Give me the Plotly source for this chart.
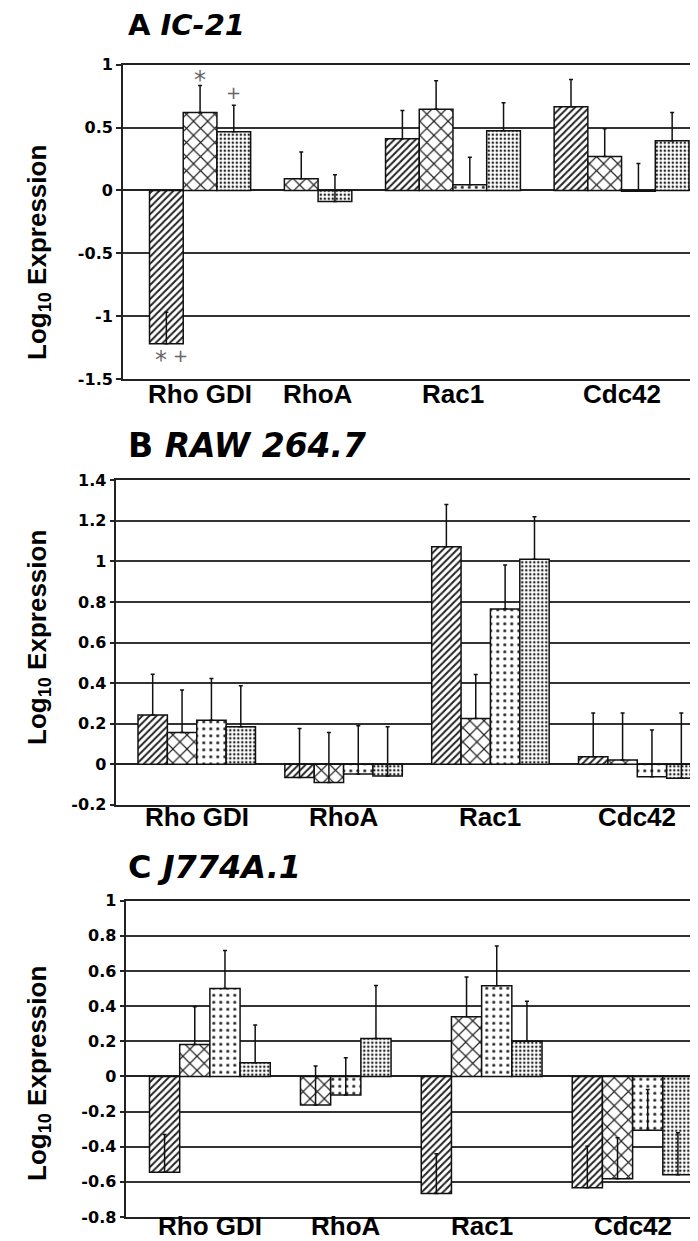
import plotly.graph_objects as go

# ---------------- data ----------------
categories = ["Rho GDI", "RhoA", "Rac1", "Cdc42"]
series_names = ["hatched", "crosshatch", "chevron", "dotted"]

# Panel A  IC-21
a_hatched = [-1.22, None, 0.41, 0.665]
a_cross = [0.62, 0.092, 0.645, 0.27]
a_chevron = [None, None, 0.045, -0.007]
a_dotted = [0.467, -0.088, 0.475, 0.395]
a_hatched_err = [0.25, None, 0.225, 0.217]
a_cross_err = [0.215, 0.213, 0.228, 0.22]
a_chevron_err = [None, None, 0.218, 0.222]
a_dotted_err = [0.21, 0.212, 0.223, 0.225]

# Panel B  RAW 264.7
b_hatched = [0.242, -0.066, 1.072, 0.036]
b_cross = [0.156, -0.09, 0.225, 0.021]
b_chevron = [0.217, -0.049, 0.765, -0.0625]
b_dotted = [0.184, -0.058, 1.01, -0.07]
b_hatched_err = [0.202, 0.242, 0.209, 0.216]
b_cross_err = [0.21, 0.246, 0.217, 0.231]
b_chevron_err = [0.206, 0.239, 0.217, 0.231]
b_dotted_err = [0.203, 0.242, 0.21, 0.322]

# Panel C  J774A.1
c_hatched = [-0.545, None, -0.666, -0.634]
c_cross = [0.182, -0.163, 0.34, -0.583]
c_chevron = [0.5, -0.106, 0.516, -0.307]
c_dotted = [0.078, 0.216, 0.2, -0.56]
c_hatched_err = [0.214, None, 0.226, 0.237]
c_cross_err = [0.215, 0.222, 0.226, 0.234]
c_chevron_err = [0.217, 0.212, 0.226, 0.233]
c_dotted_err = [0.214, 0.302, 0.228, 0.24]

a_ytickvals = [-1.5, -1, -0.5, 0, 0.5, 1]
a_yticktext = ["-1.5", "-1", "-0.5", "0", "0.5", "1"]
b_ytickvals = [-0.2, 0, 0.2, 0.4, 0.6, 0.8, 1.0, 1.2, 1.4]
b_yticktext = ["-0.2", "0", "0.2", "0.4", "0.6", "0.8", "1", "1.2", "1.4"]
c_ytickvals = [-0.8, -0.6, -0.4, -0.2, 0, 0.2, 0.4, 0.6, 0.8, 1.0]
c_yticktext = ["-0.8", "-0.6", "-0.4", "-0.2", "0", "0.2", "0.4", "0.6", "0.8", "1"]

panel_titles = ["A <i>IC-21</i>", "B <i>RAW 264.7</i>", "C <i>J774A.1</i>"]

# ---------------- styles ----------------
W, H = 698, 1241
patterns = {
    "hatched": dict(shape="/", size=5, solidity=0.4),
    "crosshatch": dict(shape="x", size=10, solidity=0.22),
    "chevron": dict(shape=".", size=7, solidity=0.15),
    "dotted": dict(shape=".", size=4, solidity=0.3),
}

panels = [
    dict(vals=[a_hatched, a_cross, a_chevron, a_dotted],
         errs=[a_hatched_err, a_cross_err, a_chevron_err, a_dotted_err],
         yrange=[-1.5, 1.0], tv=a_ytickvals, tt=a_yticktext,
         top=56.7, bottom=371.0, left=114.8, xr=[-1.292, 16.004],
         title_y=17.0, title_size=29, ytitle_y=245.0, label_y=386.0),
    dict(vals=[b_hatched, b_cross, b_chevron, b_dotted],
         errs=[b_hatched_err, b_cross_err, b_chevron_err, b_dotted_err],
         yrange=[-0.2, 1.4], tv=b_ytickvals, tt=b_yticktext,
         top=472.3, bottom=796.7, left=108.3, xr=[-1.239, 18.84],
         title_y=437.0, title_size=33, ytitle_y=630.0, label_y=809.0),
    dict(vals=[c_hatched, c_cross, c_chevron, c_dotted],
         errs=[c_hatched_err, c_cross_err, c_chevron_err, c_dotted_err],
         yrange=[-0.8, 1.0], tv=c_ytickvals, tt=c_yticktext,
         top=892.7, bottom=1209.0, left=118.3, xr=[-1.268, 17.93],
         title_y=858.7, title_size=32, ytitle_y=1066.0, label_y=1218.0),
]


def slot_layout(vals):
    """Pack the present bars of each category side by side, one empty slot between categories."""
    pos = [[None] * len(categories) for _ in vals]
    centers = []
    slot = 0
    for ci in range(len(categories)):
        start = slot
        for si in range(len(vals)):
            if vals[si][ci] is not None:
                pos[si][ci] = slot
                slot += 1
        centers.append((start + slot - 1) / 2)
        slot += 1
    return pos, centers


fig = go.Figure()
annotations = []
layout_axes = {}
for pi, p in enumerate(panels):
    n = "" if pi == 0 else str(pi + 1)
    pos, centers = slot_layout(p["vals"])
    for si, name in enumerate(series_names):
        xs, ys, es = [], [], []
        for ci in range(len(categories)):
            v = p["vals"][si][ci]
            if v is None:
                continue
            xs.append(pos[si][ci])
            ys.append(v)
            es.append(p["errs"][si][ci])
        pat = patterns[name]
        fig.add_trace(go.Bar(
            x=xs, y=ys, width=1.0, name=name, showlegend=False,
            xaxis="x" + n, yaxis="y" + n,
            marker=dict(color="white",
                        line=dict(color="#111", width=1.5),
                        pattern=dict(shape=pat["shape"], size=pat["size"],
                                     solidity=pat["solidity"], fgcolor="#222",
                                     bgcolor="white", fillmode="replace")),
            error_y=dict(type="data", symmetric=False, array=es,
                         arrayminus=[0] * len(es), color="#111",
                         thickness=1.5, width=2),
        ))
    layout_axes["xaxis" + n] = dict(
        domain=[p["left"] / W, 1.0], range=p["xr"], anchor="y" + n,
        showticklabels=False,
        showgrid=False, zeroline=False, showline=True, linecolor="#222",
        linewidth=1.5, mirror=True, ticks="", automargin=False,
    )
    layout_axes["yaxis" + n] = dict(
        domain=[1 - p["bottom"] / H, 1 - p["top"] / H], range=p["yrange"],
        anchor="x" + n, tickmode="array", tickvals=p["tv"], ticktext=p["tt"],
        tickfont=dict(family="DejaVu Sans", size=16, color="black", weight="bold"),
        showgrid=True, gridcolor="#333", gridwidth=1.5,
        zeroline=True, zerolinecolor="#222", zerolinewidth=1.5,
        showline=True, linecolor="#222", linewidth=1.5,
        ticks="outside", ticklen=5, tickcolor="#222", tickwidth=1.5,
        automargin=False,
    )
    # category labels under each group of bars
    for ci, cat in enumerate(categories):
        annotations.append(dict(
            text=cat, xref="x" + n, yref="paper",
            x=centers[ci], y=1 - p["label_y"] / H, xanchor="center", yanchor="middle",
            showarrow=False,
            font=dict(family="Liberation Sans", size=26, color="black", weight="bold"),
        ))
    annotations.append(dict(
        text=panel_titles[pi], xref="paper", yref="paper",
        x=118 / W, y=1 - p["title_y"] / H, xanchor="left", yanchor="middle",
        showarrow=False,
        font=dict(family="DejaVu Sans", size=p["title_size"], color="black", weight="bold"),
    ))
    annotations.append(dict(
        text="Log<sub>10</sub> Expression", xref="paper", yref="paper",
        x=30 / W, y=1 - p["ytitle_y"] / H, xanchor="center", yanchor="middle",
        textangle=-90, showarrow=False,
        font=dict(family="Liberation Sans", size=26, color="black", weight="bold"),
    ))

# significance marks in panel A
marks = [("*", 1, 0.88), ("+", 2, 0.775), ("*", -0.16, -1.35), ("+", 0.43, -1.31)]
for txt, xv, yv in marks:
    annotations.append(dict(
        text=txt, xref="x", yref="y", x=xv, y=yv, showarrow=False,
        xanchor="center", yanchor="middle",
        font=dict(family="DejaVu Sans", size=24 if txt == "*" else 18, color="#666"),
    ))

fig.update_layout(
    width=W, height=H, margin=dict(l=0, r=0, t=0, b=0),
    paper_bgcolor="white", plot_bgcolor="white",
    barmode="overlay", annotations=annotations, **layout_axes,
)

fig.write_html("out.html")
